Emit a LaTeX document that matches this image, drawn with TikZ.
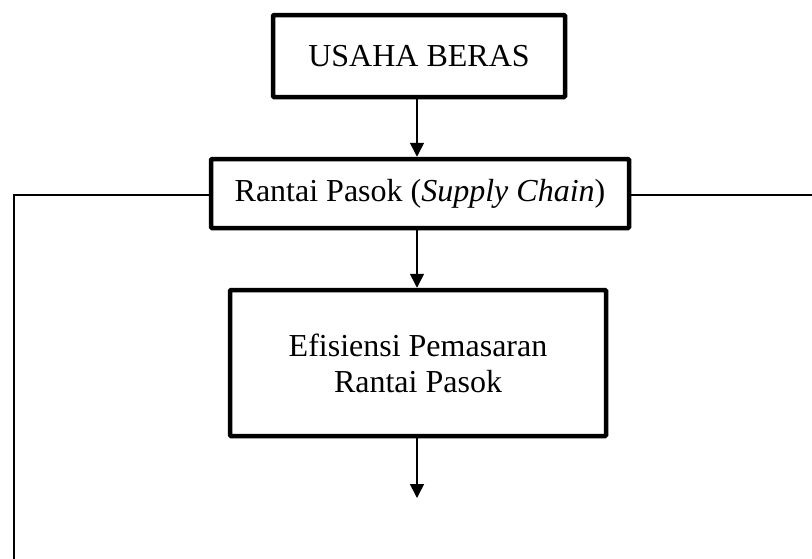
\documentclass[tikz,border=0pt]{standalone}
\usepackage{fontspec}
\setmainfont{Liberation Serif}
\usetikzlibrary{arrows.meta}
\begin{document}
\begin{tikzpicture}[x=1pt,y=-1pt,
  box/.style={draw=black,line width=4.5pt,rounded corners=1pt,align=center,inner sep=0pt,
    font=\fontsize{32}{36}\selectfont},
  conn/.style={line width=1.6pt},
  arr/.style={conn,-{Triangle[length=14pt,width=14pt]}}]
\useasboundingbox (0,0) rectangle (812,558);
\node[box,minimum width=292pt,minimum height=82pt] (b1) at (419,56) {USAHA BERAS};
\node[box,minimum width=418pt,minimum height=69pt] (b2) at (420,193.5) {Rantai Pasok (\textit{Supply Chain})};
\node[box,minimum width=376pt,minimum height=146pt] (b3) at (418,363) {Efisiensi Pemasaran\\Rantai Pasok};
\coordinate (end) at (417,498);
\coordinate (lt) at (14,195);
\coordinate (lb) at (14,560);
\coordinate (rt) at (814,195);
\draw[arr] (b1.south -| end) -- (b2.north -| end);
\draw[arr] (b2.south -| end) -- (b3.north -| end);
\draw[arr] (b3.south -| end) -- (end);
\draw[conn] (b2.west |- lt) -- (lt) -- (lb);
\draw[conn] (b2.east |- rt) -- (rt);
\end{tikzpicture}
\end{document}
